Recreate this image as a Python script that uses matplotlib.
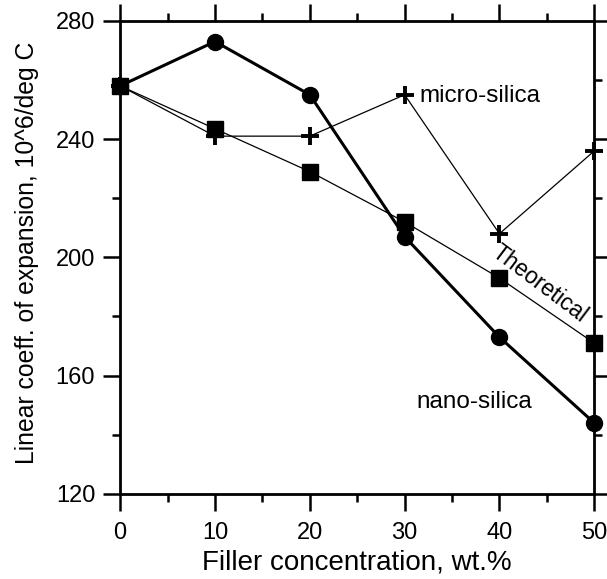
import matplotlib.pyplot as plt
from matplotlib.ticker import MultipleLocator

plt.rcParams['font.family'] = ['Liberation Sans', 'DejaVu Sans']

FILLER = [0, 10, 20, 30, 40, 50]
NANO = [258, 273, 255, 207, 173, 144]
MICRO = [258, 241, 241, 255, 208, 236]
THEORY = [258, 243.5, 229, 212, 193, 171]

fig = plt.figure(figsize=(6.07, 5.79), dpi=100)
ax = fig.add_axes([0.198, 0.147, 0.781, 0.817])

ax.plot(FILLER, THEORY, color='black', lw=0.9, marker='s', ms=12,
        clip_on=False, zorder=3)
ax.plot(FILLER, MICRO, color='black', lw=0.9, marker='+', ms=12.5, mew=2.8,
        clip_on=False, zorder=4)
ax.plot(FILLER, NANO, color='black', lw=2.2, marker='o', ms=11.5,
        clip_on=False, zorder=5)

ax.text(31.6, 254.5, 'micro-silica', fontsize=17.5, va='center', ha='left')
ax.text(37.4, 151, 'nano-silica', fontsize=17.5, va='center', ha='center')
ax.text(44.2, 191, 'Theoretical', fontsize=16.5, va='center', ha='center',
        rotation=-37)

ax.set_xlim(0, 50)
ax.set_ylim(120, 280)
ax.xaxis.set_major_locator(MultipleLocator(10))
ax.xaxis.set_minor_locator(MultipleLocator(5))
ax.yaxis.set_major_locator(MultipleLocator(40))
ax.yaxis.set_minor_locator(MultipleLocator(20))
ax.tick_params(which='both', direction='out', width=1.8, top=True, right=True,
               labelsize=17, labelright=False, labeltop=False)
ax.tick_params(which='major', length=12)
ax.tick_params(which='minor', length=6)
ax.tick_params(axis='x', which='major', pad=8)
ax.tick_params(axis='y', which='major', pad=6)
for s in ax.spines.values():
    s.set_linewidth(2)

ax.set_xlabel('Filler concentration, wt.%', fontsize=20, labelpad=4)
ax.set_ylabel('Linear coeff. of expansion, 10^6/deg C', fontsize=17.8)
ax.yaxis.set_label_coords(-0.172, 0.51)

fig.savefig('out.png', dpi=100)
